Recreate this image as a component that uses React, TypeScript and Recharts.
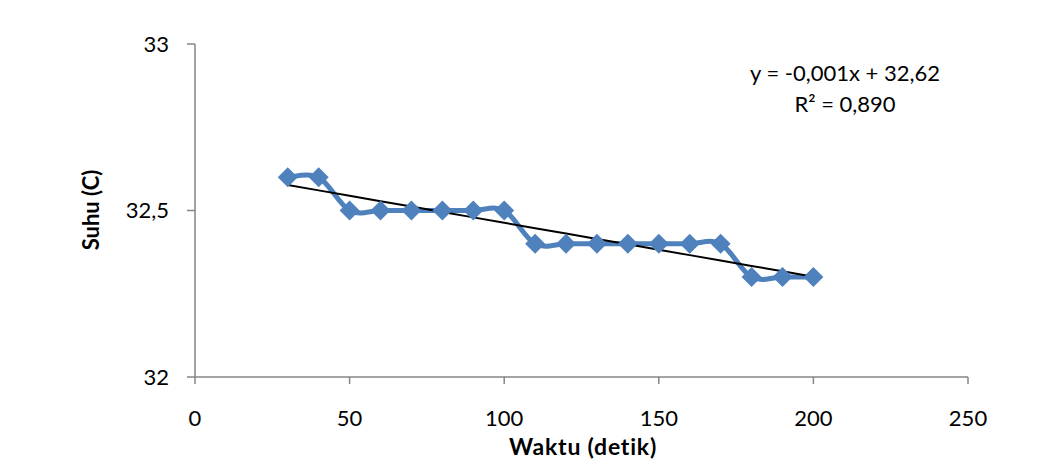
import React from 'react';
import { LineChart, Line, XAxis, YAxis } from 'recharts';

// Waktu (detik) vs Suhu (C)
const waktu = [30, 40, 50, 60, 70, 80, 90, 100, 110, 120, 130, 140, 150, 160, 170, 180, 190, 200];
const suhu = [32.6, 32.6, 32.5, 32.5, 32.5, 32.5, 32.5, 32.5, 32.4, 32.4, 32.4, 32.4, 32.4, 32.4, 32.4, 32.3, 32.3, 32.3];
const xTicks = [0, 50, 100, 150, 200, 250];
const yTicks = [32, 32.5, 33];

// linear trendline (least squares) from the data
const n = waktu.length;
const mx = waktu.reduce((a, b) => a + b, 0) / n;
const my = suhu.reduce((a, b) => a + b, 0) / n;
let sxy = 0;
let sxx = 0;
waktu.forEach((x, i) => {
  sxy += (x - mx) * (suhu[i] - my);
  sxx += (x - mx) * (x - mx);
});
const slope = sxy / sxx;
const intercept = my - slope * mx;

const data = waktu.map((x, i) => ({ x, suhu: suhu[i], trend: intercept + slope * x }));

// Excel-like smoothed line (uniform Catmull-Rom as bezier)
const smoothCurve = (context: any) => {
  let pts: number[][] = [];
  return {
    areaStart() {},
    areaEnd() {},
    lineStart() {
      pts = [];
    },
    point(x: number, y: number) {
      pts.push([+x, +y]);
    },
    lineEnd() {
      if (!pts.length) return;
      context.moveTo(pts[0][0], pts[0][1]);
      for (let i = 0; i < pts.length - 1; i++) {
        const p0 = pts[i - 1] || pts[i];
        const p1 = pts[i];
        const p2 = pts[i + 1];
        const p3 = pts[i + 2] || p2;
        context.bezierCurveTo(
          p1[0] + (p2[0] - p0[0]) / 6,
          p1[1] + (p2[1] - p0[1]) / 6,
          p2[0] - (p3[0] - p1[0]) / 6,
          p2[1] - (p3[1] - p1[1]) / 6,
          p2[0],
          p2[1]
        );
      }
    },
  };
};

const Diamond = (props: any) => {
  const { cx, cy } = props;
  if (cx == null || cy == null) return null;
  const r = 10;
  return <path d={`M${cx},${cy - r}L${cx + r},${cy}L${cx},${cy + r}L${cx - r},${cy}Z`} fill="#4F81BD" />;
};

const font = 'Lato, "Open Sans", sans-serif';
const fmt = (v: number) => String(v).replace('.', ',');

export default function App() {
  return (
    <div style={{ position: 'absolute', left: 0, top: 0, width: 1059, height: 466, background: '#fff', fontFamily: font }}>
      <LineChart width={1059} height={466} data={data} margin={{ top: 44, right: 91, bottom: 0, left: 0 }}>
        <XAxis
          dataKey="x"
          type="number"
          domain={[0, 250]}
          ticks={xTicks}
          height={89}
          stroke="#868686"
          strokeWidth={1.5}
          tickSize={7}
          tickMargin={26}
          tick={{ fill: '#000', fontSize: 22, fontFamily: font }}
        />
        <YAxis
          type="number"
          domain={[32, 33]}
          ticks={yTicks}
          width={195}
          stroke="#868686"
          strokeWidth={1.5}
          tickSize={8}
          tickMargin={18}
          tickFormatter={fmt}
          tick={{ fill: '#000', fontSize: 22, fontFamily: font }}
        />
        <Line
          dataKey="suhu"
          type={smoothCurve as any}
          stroke="#4F81BD"
          strokeWidth={5}
          dot={<Diamond />}
          activeDot={false}
          isAnimationActive={false}
        />
        <Line
          dataKey="trend"
          type="linear"
          stroke="#000"
          strokeWidth={2}
          dot={false}
          activeDot={false}
          isAnimationActive={false}
        />
      </LineChart>
      <div style={{ position: 'absolute', left: 845, top: 57, transform: 'translateX(-50%)', fontSize: 22, whiteSpace: 'nowrap', textAlign: 'center', lineHeight: '31px' }}>
        y = -0,001x + 32,62
        <br />
        R² = 0,890
      </div>
      <div style={{ position: 'absolute', left: 583, top: 432, transform: 'translateX(-50%)', fontSize: 23, fontWeight: 'bold', letterSpacing: 0.8, whiteSpace: 'nowrap', lineHeight: '28px' }}>
        Waktu (detik)
      </div>
      <div style={{ position: 'absolute', left: 90, top: 210, transform: 'translate(-50%, -50%) rotate(-90deg)', fontSize: 22, fontWeight: 'bold', whiteSpace: 'nowrap' }}>
        Suhu (C)
      </div>
    </div>
  );
}
